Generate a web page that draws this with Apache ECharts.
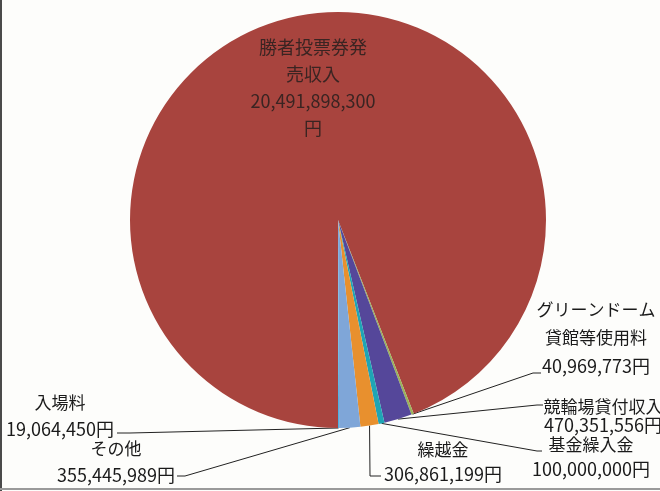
<!DOCTYPE html>
<html>
<head>
<meta charset="utf-8">
<script src="https://cdn.jsdelivr.net/npm/echarts@6/dist/echarts.min.js"></script>
<style>
  html, body { margin: 0; padding: 0; background: #fdfdfb; }
  #c { width: 660px; height: 491px; }
</style>
</head>
<body>
<div id="c"></div>
<script>
// Revenue breakdown (円)
const names = ['勝者投票券発売収入', 'グリーンドーム貸館等使用料', '競輪場貸付収入', '基金繰入金', '繰越金', 'その他', '入場料'];
const nameLines = [['勝者投票券発', '売収入'], ['グリーンドーム', '貸館等使用料'], ['競輪場貸付収入'], ['基金繰入金'], ['繰越金'], ['その他'], ['入場料']];
const values = [20491898300, 40969773, 470351556, 100000000, 306861199, 355445989, 19064450];
const colors = ['#a8443e', '#9bb35a', '#55479a', '#1fa5b5', '#e8902e', '#7fa6d8', '#4eb0e0'];

// Label block placement: centre of each text block, its line height,
// and the elbow/end of the leader line running to it.
const place = [
  { x: 313, y: 88, lh: 27 },
  { x: 596, y: 338, lh: 28.5, line: [[533, 373], [541, 373]] },
  { x: 603, y: 416, lh: 18.5, line: [[537, 405], [543, 405]] },
  { x: 591, y: 457, lh: 25, line: [[537, 451], [542, 451]] },
  { x: 443, y: 462, lh: 24, line: [[370, 476], [381, 476]] },
  { x: 116, y: 462, lh: 26, line: [[185, 476], [177, 476]] },
  { x: 60, y: 416, lh: 27, line: [[130, 433], [117, 433]] }
];

const FONT = '"Noto Sans CJK JP", "Noto Sans", sans-serif';
const fmt = v => v.toLocaleString('en-US');

const data = names.map((name, i) => {
  const inside = i === 0;
  const txtColor = inside ? '#3a2422' : '#1a1a1a';
  return {
    name: name,
    value: values[i],
    itemStyle: { color: colors[i] },
    label: {
      position: inside ? 'inside' : 'outside',
      formatter: () => {
        const ls = nameLines[i].map(t => '{n|' + t + '}');
        if (inside) {
          ls.push('{v|' + fmt(values[i]) + '}', '{n|円}');
        } else {
          ls.push('{v|' + fmt(values[i]) + '円}');
        }
        return ls.join('\n');
      },
      rich: {
        n: { fontFamily: FONT, fontSize: inside ? 18 : 17, color: txtColor, lineHeight: place[i].lh, align: 'center' },
        v: { fontFamily: FONT, fontSize: 18, color: txtColor, lineHeight: place[i].lh, align: 'center' }
      }
    },
    labelLine: { show: !inside }
  };
});

const chart = echarts.init(document.getElementById('c'), null, { renderer: 'canvas' });
chart.setOption({
  backgroundColor: '#fdfdfb',
  animation: false,
  graphic: [
    { type: 'rect', shape: { x: 0, y: 0, width: 2, height: 491 }, style: { fill: '#4a4a4a' } },
    { type: 'rect', shape: { x: 0, y: 488, width: 660, height: 2 }, style: { fill: '#9a9a9a' } }
  ],
  series: [{
    type: 'pie',
    center: [338, 220],
    radius: 208,
    startAngle: 270,
    clockwise: true,
    avoidLabelOverlap: false,
    emphasis: { disabled: true },
    itemStyle: { borderWidth: 0 },
    label: { show: true, align: 'center', verticalAlign: 'middle' },
    labelLine: { show: true, length: 10, length2: 10, lineStyle: { color: '#222', width: 1 } },
    labelLayout: function (p) {
      const s = place[p.dataIndex];
      const out = { x: s.x, y: s.y, align: 'center', verticalAlign: 'middle' };
      if (s.line && p.labelLinePoints) {
        out.labelLinePoints = [p.labelLinePoints[0], s.line[0], s.line[1]];
      }
      return out;
    },
    data: data
  }]
});
</script>
</body>
</html>
